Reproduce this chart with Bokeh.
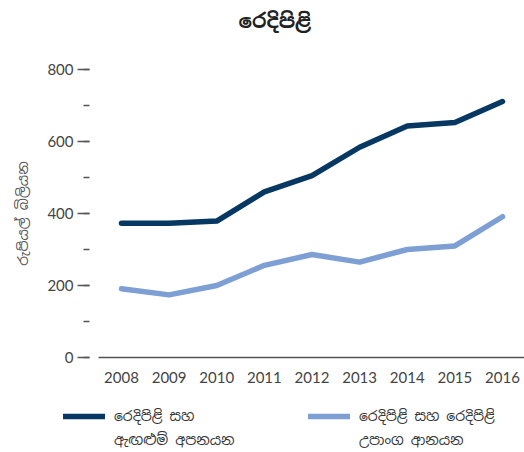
from bokeh.plotting import figure
from bokeh.layouts import column
from bokeh.models import ColumnDataSource, Legend, LegendItem, SingleIntervalTicker, FixedTicker, Range1d, Title
from bokeh.embed import file_html
from bokeh.resources import INLINE

years = [2008, 2009, 2010, 2011, 2012, 2013, 2014, 2015, 2016]
exports = [373, 373, 379, 460, 505, 584, 643, 653, 711]
imports = [191, 174, 200, 256, 286, 265, 300, 310, 391]
y_ticks = [0, 200, 400, 600, 800]

title_text = "රෙදිපිළි"
y_label = "රුපියල් බිලියන"
label_exports = ["රෙදිපිළි සහ", "ඇඟළුම් අපනයන"]
label_imports = ["රෙදිපිළි සහ රෙදිපිළි", "උපාංග ආනයන"]

DARK = "#073763"
LIGHT = "#7d9fd4"
SIN = "'Noto Sans Sinhala', 'Noto Serif Sinhala', 'Noto Sans', sans-serif"
NUM = "Lato"

src = ColumnDataSource(dict(year=years, exp=exports, imp=imports))

# ---------------- main chart ----------------
p = figure(width=524, height=395, output_backend="svg", toolbar_location=None,
           x_range=Range1d(2007.328, 2016.462), y_range=Range1d(0, 800),
           min_border_left=89, min_border_right=0, min_border_top=69, min_border_bottom=38)
p.outline_line_color = None
p.grid.grid_line_color = None
p.background_fill_color = None
p.border_fill_color = "white"

r1 = p.line("year", "exp", source=src, line_color=DARK, line_width=5.5, line_cap="round", line_join="round")
r2 = p.line("year", "imp", source=src, line_color=LIGHT, line_width=5.5, line_cap="round", line_join="round")

p.title.text = title_text
p.title.align = "left"
p.title.offset = 149
p.title.standoff = 0
p.title.text_font = SIN
p.title.text_font_size = "20px"
p.title.text_font_style = "bold"
p.title.text_color = "#222222"
# spacer between the title and the plot area
p.add_layout(Title(text=" ", text_font_size="12px", standoff=20), "above")

# y axis
ya = p.yaxis[0]
ya.ticker = SingleIntervalTicker(interval=200, num_minor_ticks=2)
ya.axis_line_color = None
ya.major_tick_in = 0
ya.major_tick_out = 12
ya.minor_tick_in = 0
ya.minor_tick_out = 6
ya.major_tick_line_color = "#555555"
ya.minor_tick_line_color = "#555555"
ya.major_tick_line_width = 1.5
ya.minor_tick_line_width = 1.5
ya.major_label_standoff = 4
ya.major_label_text_font = NUM
ya.major_label_text_font_size = "15px"
ya.major_label_text_color = "#444444"
ya.axis_label = y_label
ya.axis_label_text_font = SIN
ya.axis_label_text_font_size = "14px"
ya.axis_label_text_font_style = "normal"
ya.axis_label_text_color = "#555555"
ya.axis_label_standoff = 12

# x axis
xa = p.xaxis[0]
xa.ticker = FixedTicker(ticks=years)
xa.bounds = (2007.52, 2016.462)
xa.axis_line_color = "#555555"
xa.axis_line_width = 1.5
xa.major_tick_line_color = None
xa.minor_tick_line_color = None
xa.major_tick_in = 0
xa.major_tick_out = 0
xa.major_label_standoff = 14
xa.major_label_text_font = NUM
xa.major_label_text_font_size = "15px"
xa.major_label_text_color = "#444444"

# ---------------- legend strip ----------------
lg = figure(width=524, height=57, output_backend="svg", toolbar_location=None,
            x_range=Range1d(0, 1), y_range=Range1d(0, 1),
            x_axis_location=None, y_axis_location=None, min_border=0)
lg.outline_line_color = None
lg.grid.grid_line_color = None
lg.background_fill_color = None
lg.border_fill_color = "white"

# legend proxies: same data, lying outside this strip's ranges (clipped away)
k1 = lg.line("year", "exp", source=src, line_color=DARK, line_width=5.5, line_cap="round")
k2 = lg.line("year", "imp", source=src, line_color=LIGHT, line_width=5.5, line_cap="round")
blank = lg.line("year", "exp", source=src, line_alpha=0)

unaligned = True
try:
    p.frame_align = False
    lg.frame_align = False
except Exception:
    unaligned = False

if unaligned:
    leg_loc = (63, 2)
    lab_w = 190
else:
    leg_loc = (0, 2)
    lab_w = 166

legend = Legend(items=[LegendItem(label=label_exports[0], renderers=[k1]),
                       LegendItem(label=label_exports[1], renderers=[blank]),
                       LegendItem(label=label_imports[0], renderers=[k2]),
                       LegendItem(label=label_imports[1], renderers=[blank])],
                orientation="vertical", nrows=2, location=leg_loc)
legend.border_line_color = None
legend.background_fill_alpha = 0
legend.glyph_width = 42
legend.glyph_height = 20
legend.label_standoff = 9
legend.label_width = lab_w
legend.label_height = 20
legend.spacing = 4
legend.label_text_font = SIN
legend.label_text_font_size = "14px"
legend.label_text_color = "#333333"
legend.margin = 0
legend.padding = 0
lg.add_layout(legend, "center")

layout = column(p, lg, spacing=0)
open("out.html", "w").write(file_html(layout, INLINE))
